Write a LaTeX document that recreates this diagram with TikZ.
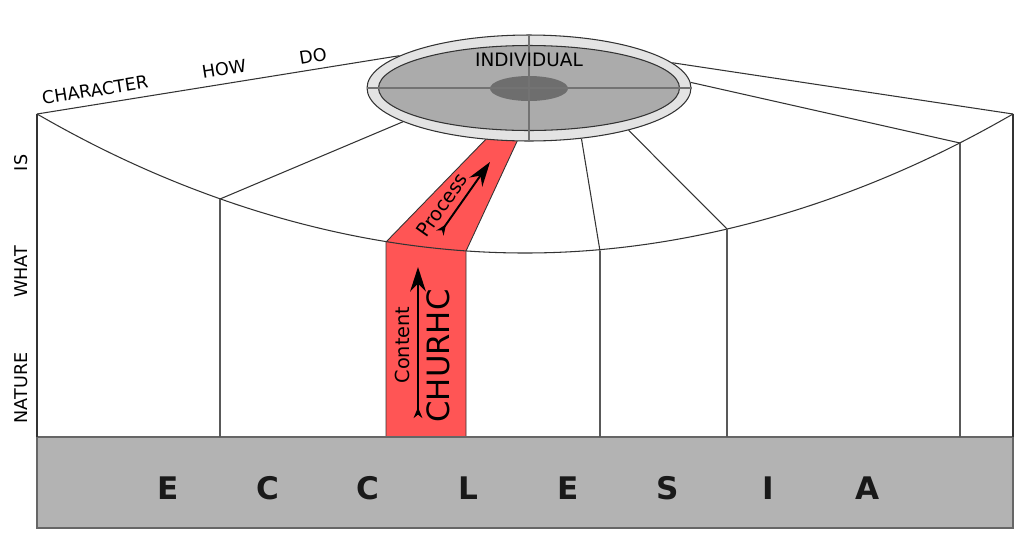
\documentclass[tikz,border=0pt]{standalone}
\usepackage{fontspec}
\setmainfont{DejaVu Sans}
\usetikzlibrary{arrows.meta,shapes.geometric}
\definecolor{churchred}{HTML}{FF5555}
\definecolor{groundgray}{HTML}{B3B3B3}
\definecolor{rimgray}{HTML}{E3E3E3}
\definecolor{discgray}{HTML}{ABABAB}
\definecolor{coregray}{HTML}{6E6E6E}

\begin{document}
\begin{tikzpicture}[x=0.02cm,y=-0.02cm]
\tikzset{wall/.style={draw=black!80,line width=0.6pt},
  sidetext/.style={inner sep=0,font=\fontsize{10}{12}\selectfont},
  disc/.style={ellipse,inner sep=0,draw=black!80,line width=0.6pt},
  flow/.style={line width=1.1pt,{Stealth[length=6pt,width=5pt,reversed]}-{Stealth[length=14pt,width=9pt]}}}
\useasboundingbox (0,0) rectangle (1024,535);
\coordinate (tl) at (37,114);
\coordinate (tr) at (1013,114);
\coordinate (bl) at (37,437);
\coordinate (br) at (1013,437);
% the red band
\fill[churchred,draw=black!80,line width=0.5pt] (386,437) -- (386,242) -- (490,135) -- (520,135) -- (466,251) -- (466,437) -- cycle;
\filldraw[fill=groundgray,draw=black!60,line width=0.6pt] (bl) rectangle (1013,528);
\draw[wall] (tl) -- (bl) (tr) -- (br);
\draw[wall] (tl) parabola bend (525,253) (tr);
\foreach \x/\y in {220/199,600/251,727/229,960/143}
  \draw[wall,draw=black!65] (\x,\y) -- (\x,437);
% the disc
\node[disc,fill=rimgray,minimum width=6.48cm,minimum height=2.12cm] (rim) at (529,88) {};
\node[disc,fill=discgray,minimum width=6.02cm,minimum height=1.7cm] (inner) at (529,88) {};
\node[disc,draw=none,fill=coregray,minimum width=1.56cm,minimum height=0.5cm] (core) at (529,88.5) {};
\draw[black!55,line width=0.6pt] (rim.west) -- (rim.east) (rim.north) -- (rim.south);
\node[sidetext,font=\fontsize{10.5}{12}\selectfont] (indiv) at (529,60) {INDIVIDUAL};
\draw[wall] (tl) -- (rim.166.5) (rim.10.4) -- (tr);
\draw[wall] (rim.2.1) -- (960,143);
\draw[wall] (rim.195.5) -- (220,199);
\draw[wall] (rim.316.6) -- (600,251);
\draw[wall] (rim.337.4) -- (727,229);
% labels
\node[sidetext,rotate=9] (char) at (95,90) {CHARACTER};
\node[sidetext,rotate=9] (how) at (224,69) {HOW};
\node[sidetext,rotate=9] (do) at (313,56) {DO};
\node[sidetext,rotate=90] (is) at (21,163) {IS};
\node[sidetext,rotate=90] (what) at (21,272) {WHAT};
\node[sidetext,rotate=90] (nature) at (21,388) {NATURE};
\node[sidetext,rotate=55,font=\fontsize{11}{13}\selectfont] (proc) at (442,205) {Process};
\node[sidetext,rotate=90,font=\fontsize{11}{13}\selectfont] (cont) at (402,345) {Content};
\node[sidetext,rotate=90,font=\fontsize{17.5}{20}\selectfont] (church) at (438,356) {CHURHC};
\coordinate (p0) at (440,233);
\coordinate (p1) at (490,162);
\coordinate (c0) at (418,418);
\coordinate (c1) at (418,267);
\draw[flow] (p0) -- (p1);
\draw[flow] (c0) -- (c1);
\foreach \ch [count=\i] in {E,C,C,L,E,S,I,A}
  \node[inner sep=0,text=black!90,font=\fontsize{17.7}{20}\bfseries] (ec\i) at (68+100*\i,488) {\ch};
\end{tikzpicture}
\end{document}
